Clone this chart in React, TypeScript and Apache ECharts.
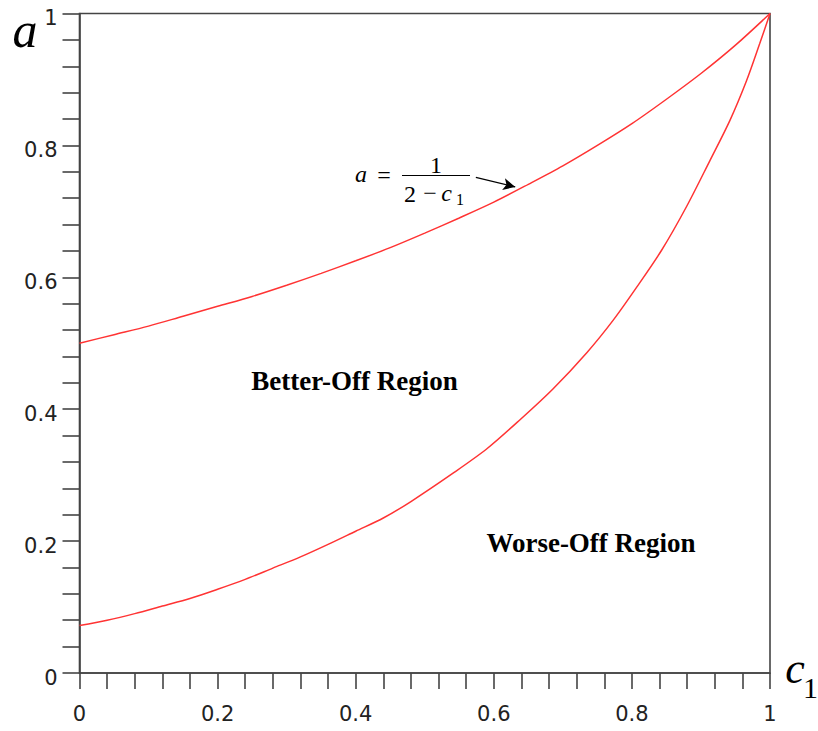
import React, { useEffect, useRef } from "react";
import * as echarts from "echarts";

// Upper boundary a = 1/(2 - c1)
const upperC = [0, 0.05, 0.1, 0.15, 0.2, 0.25, 0.3, 0.35, 0.4, 0.45, 0.5, 0.55, 0.6, 0.65, 0.7, 0.75, 0.8, 0.85, 0.9, 0.95, 1];
const upperA = [0.5, 0.513, 0.526, 0.541, 0.556, 0.571, 0.588, 0.606, 0.625, 0.645, 0.667, 0.69, 0.714, 0.741, 0.769, 0.8, 0.833, 0.87, 0.909, 0.952, 1];

// Lower boundary
const lowerC = [0, 0.04, 0.08, 0.12, 0.16, 0.2, 0.24, 0.28, 0.32, 0.36, 0.4, 0.44, 0.48, 0.541, 0.59, 0.638, 0.686, 0.735, 0.773, 0.807, 0.843, 0.879, 0.913, 0.942, 0.966, 0.985, 1];
const lowerA = [0.072, 0.08, 0.09, 0.1015, 0.113, 0.127, 0.142, 0.159, 0.176, 0.195, 0.215, 0.235, 0.26, 0.303, 0.34, 0.384, 0.431, 0.486, 0.535, 0.585, 0.641, 0.707, 0.777, 0.838, 0.898, 0.954, 1];

// Arrow of the annotation (data coordinates)
const arrowFrom = [0.574, 0.7515];
const arrowTo = [0.631, 0.737];

const regionLabels = ["Better-Off Region", "Worse-Off Region"];

const AXIS_COLOR = "#444";
const CURVE_COLOR = "#ff3333";
const TICK_FONT = '"DejaVu Sans", sans-serif';
const SERIF = '"Liberation Serif", "Times New Roman", serif';

export default function App() {
  const ref = useRef<HTMLDivElement>(null);
  useEffect(() => {
    if (!ref.current) return;
    const chart = echarts.init(ref.current, null, { renderer: "svg" });
    const axisCommon = {
      type: "value" as const,
      min: 0,
      max: 1,
      interval: 0.2,
      splitLine: { show: false },
      axisLine: { show: true, lineStyle: { color: AXIS_COLOR, width: 1.6 } },
      axisTick: { show: true, inside: false, lineStyle: { color: AXIS_COLOR, width: 1.6 } },
      minorTick: { show: true, splitNumber: 5, lineStyle: { color: AXIS_COLOR, width: 1.6 } },
      minorSplitLine: { show: false },
    };
    chart.setOption({
      animation: false,
      backgroundColor: "#fff",
      grid: {
        left: 79.5,
        right: 48,
        top: 13.5,
        bottom: 58,
        show: true,
        borderColor: AXIS_COLOR,
        borderWidth: 1.6,
        backgroundColor: "transparent",
      },
      xAxis: {
        ...axisCommon,
        axisTick: { ...axisCommon.axisTick, length: 16 },
        minorTick: { ...axisCommon.minorTick, length: 16 },
        axisLabel: {
          margin: 30,
          fontFamily: TICK_FONT,
          fontSize: 21,
          color: "#222",
        },
      },
      yAxis: {
        ...axisCommon,
        axisTick: { ...axisCommon.axisTick, length: 17 },
        minorTick: { ...axisCommon.minorTick, length: 17 },
        axisLabel: {
          margin: 22,
          fontFamily: TICK_FONT,
          fontSize: 21,
          color: "#222",
          verticalAlign: "top",
          lineHeight: 9,
        },
      },
      series: [
        {
          type: "line",
          name: "upper",
          data: upperC.map((c, i) => [c, upperA[i]]),
          showSymbol: false,
          smooth: 0.3,
          lineStyle: { color: CURVE_COLOR, width: 1.5 },
          markLine: {
            silent: true,
            symbol: ["none", "arrow"],
            symbolSize: [9, 12],
            label: { show: false },
            lineStyle: { color: "#000", width: 1.3, type: "solid" },
            data: [[{ coord: arrowFrom }, { coord: arrowTo }]],
          },
        },
        {
          type: "line",
          name: "lower",
          data: lowerC.map((c, i) => [c, lowerA[i]]),
          showSymbol: false,
          smooth: 0.3,
          lineStyle: { color: CURVE_COLOR, width: 1.5 },
        },
      ],
      graphic: [
        {
          type: "text",
          x: 25,
          y: 29.5,
          style: { text: "a", font: `italic 50px ${SERIF}`, fill: "#000", align: "center", verticalAlign: "middle" },
        },
        {
          type: "text",
          x: 795,
          y: 668,
          style: { text: "c", font: `italic 44px ${SERIF}`, fill: "#000", align: "center", verticalAlign: "middle" },
        },
        {
          type: "text",
          x: 810.5,
          y: 687,
          style: { text: "1", font: `30px ${SERIF}`, fill: "#000", align: "center", verticalAlign: "middle" },
        },
        // formula a = 1 / (2 - c1)
        {
          type: "text",
          x: 361,
          y: 174.4,
          style: { text: "a", font: `italic 24px ${SERIF}`, fill: "#000", align: "center", verticalAlign: "middle" },
        },
        {
          type: "text",
          x: 384,
          y: 174.5,
          style: { text: "=", font: `24px ${SERIF}`, fill: "#000", align: "center", verticalAlign: "middle" },
        },
        {
          type: "text",
          x: 436,
          y: 165,
          style: { text: "1", font: `24px ${SERIF}`, fill: "#000", align: "center", verticalAlign: "middle" },
        },
        {
          type: "line",
          shape: { x1: 402, y1: 175.5, x2: 470, y2: 175.5 },
          style: { stroke: "#000", lineWidth: 1.2 },
        },
        {
          type: "text",
          x: 410,
          y: 193.5,
          style: { text: "2", font: `24px ${SERIF}`, fill: "#000", align: "center", verticalAlign: "middle" },
        },
        {
          type: "text",
          x: 430,
          y: 193,
          style: { text: "\u2212", font: `24px ${SERIF}`, fill: "#000", align: "center", verticalAlign: "middle" },
        },
        {
          type: "text",
          x: 446.5,
          y: 193.4,
          style: { text: "c", font: `italic 24px ${SERIF}`, fill: "#000", align: "center", verticalAlign: "middle" },
        },
        {
          type: "text",
          x: 460,
          y: 199,
          style: { text: "1", font: `16px ${SERIF}`, fill: "#000", align: "center", verticalAlign: "middle" },
        },
        // region labels
        {
          type: "text",
          x: 354.5,
          y: 381,
          style: { text: regionLabels[0], font: `bold 27px ${SERIF}`, fill: "#000", align: "center", verticalAlign: "middle" },
        },
        {
          type: "text",
          x: 591,
          y: 542.5,
          style: { text: regionLabels[1], font: `bold 27px ${SERIF}`, fill: "#000", align: "center", verticalAlign: "middle" },
        },
      ],
    });
    return () => chart.dispose();
  }, []);
  return (
    <div
      ref={ref}
      style={{ position: "fixed", left: 0, top: 0, width: 818, height: 731, background: "#fff" }}
    />
  );
}
